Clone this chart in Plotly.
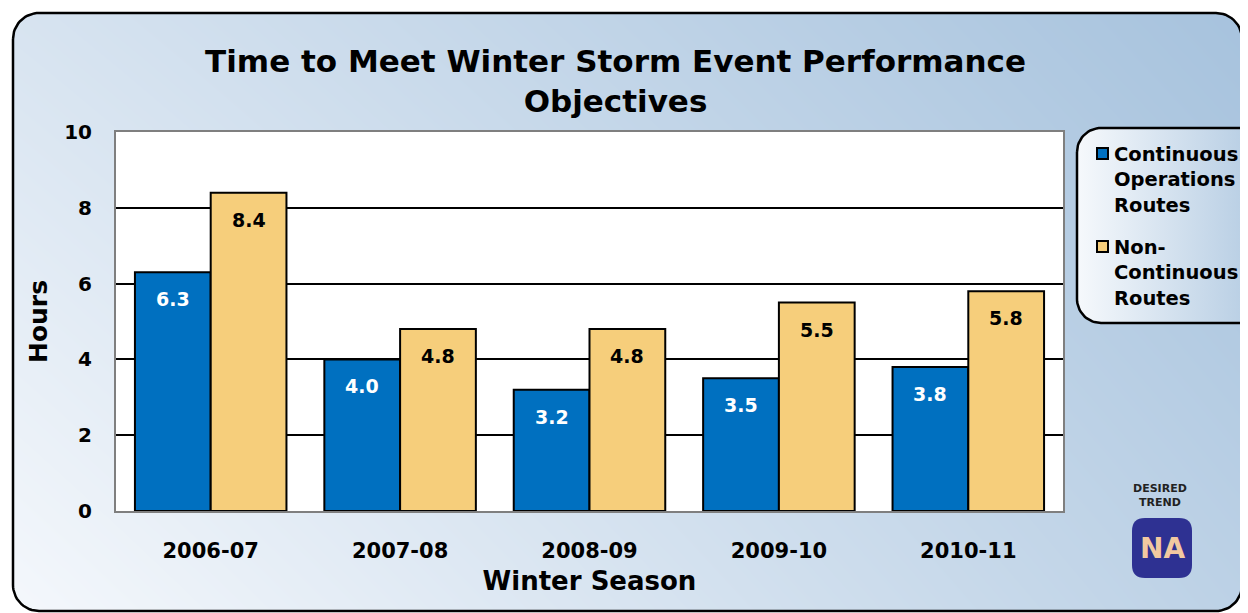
import numpy as np
import plotly.graph_objects as go

# ---------------- data ----------------
seasons = ["2006-07", "2007-08", "2008-09", "2009-10", "2010-11"]
continuous_routes = [6.3, 4.0, 3.2, 3.5, 3.8]
non_continuous_routes = [8.4, 4.8, 4.8, 5.5, 5.8]
series_names = ["Continuous<br>Operations<br>Routes", "Non-<br>Continuous<br>Routes"]
y_ticks = [0, 2, 4, 6, 8, 10]
title_text = "Time to Meet Winter Storm Event Performance<br>Objectives"
x_title = "Winter Season"
y_title = "Hours"

# ---------------- layout constants ----------------
W, H = 1248, 613
OFF = 8                      # page body margin offset
BLUE = "#0070C0"
TAN = "#F6CE7B"
FONT = "DejaVu Sans"


def fx(x):
    return x - OFF


def fy(y):
    return y - OFF


PX0, PX1, PY0, PY1 = fx(116), fx(1063), fy(132), fy(511)   # plot area in figure px


def rrect(x0, y0, x1, y1, r, n=18):
    xs, ys = [], []
    for cx, cy, a0 in [(x0 + r, y0 + r, 180), (x1 - r, y0 + r, 270),
                       (x1 - r, y1 - r, 0), (x0 + r, y1 - r, 90)]:
        for t in np.linspace(a0, a0 + 90, n):
            xs.append(cx + r * np.cos(np.radians(t)))
            ys.append(cy + r * np.sin(np.radians(t)))
    xs.append(xs[0])
    ys.append(ys[0])
    return xs, ys


def rpath(x0, y0, x1, y1, r):
    return (f"M{x0 + r},{y0} L{x1 - r},{y0} Q{x1},{y0} {x1},{y0 + r} "
            f"L{x1},{y1 - r} Q{x1},{y1} {x1 - r},{y1} L{x0 + r},{y1} "
            f"Q{x0},{y1} {x0},{y1 - r} L{x0},{y0 + r} Q{x0},{y0} {x0 + r},{y0} Z")


fig = go.Figure()

# ---- background panel (pixel-coordinate subplot x/y) ----
fig.add_trace(go.Heatmap(
    x=[0, W], y=[0, H], z=[[0.38, 1.0], [0.0, 0.72]],
    colorscale=[[0, "#F5F8FC"], [1, "#A6C2DD"]], zmin=0, zmax=1,
    zsmooth="best", showscale=False, hoverinfo="skip", xaxis="x", yaxis="y"))

# white mask outside the rounded panel
ix, iy = rrect(fx(13), fy(13), fx(1242), fy(611), 26)
ox = [-5, W + 5, W + 5, -5, -5]
oy = [-5, -5, H + 5, H + 5, -5]
mx = ox + ix[::-1] + [-5]
my = oy + iy[::-1] + [-5]
fig.add_trace(go.Scatter(x=mx, y=my, fill="toself", fillcolor="white",
                         mode="none", hoverinfo="skip", showlegend=False,
                         xaxis="x", yaxis="y"))
# panel border
fig.add_trace(go.Scatter(x=ix, y=iy, mode="lines", line=dict(color="black", width=2.5),
                         hoverinfo="skip", showlegend=False, xaxis="x", yaxis="y"))
# white plot area
fig.add_trace(go.Scatter(x=[PX0, PX1, PX1, PX0, PX0], y=[PY0, PY0, PY1, PY1, PY0],
                         fill="toself", fillcolor="white", mode="none",
                         hoverinfo="skip", showlegend=False, xaxis="x", yaxis="y"))
# legend box
lx, ly = rrect(fx(1077), fy(128), fx(1290), fy(323), 24)
fig.add_trace(go.Scatter(x=lx, y=ly, fill="toself", mode="lines",
                         line=dict(color="black", width=2.5),
                         fillgradient=dict(type="horizontal",
                                           colorscale=[[0, "#F6F9FC"], [1, "#A9C4DE"]]),
                         hoverinfo="skip", showlegend=False, xaxis="x", yaxis="y"))

# ---- bars ----
fig.add_trace(go.Bar(x=seasons, y=continuous_routes, name=series_names[0],
                     marker=dict(color=BLUE, line=dict(color="black", width=2)),
                     showlegend=False, xaxis="x2", yaxis="y2"))
fig.add_trace(go.Bar(x=seasons, y=non_continuous_routes, name=series_names[1],
                     marker=dict(color=TAN, line=dict(color="black", width=2)),
                     showlegend=False, xaxis="x2", yaxis="y2"))

annotations = []
half = (PX1 - PX0) / len(seasons) * 0.8 / 4
for s, v in zip(seasons, continuous_routes):
    annotations.append(dict(x=s, y=v, xref="x2", yref="y2", text=f"{v:.1f}",
                            showarrow=False, xshift=-half, yshift=-27,
                            font=dict(family=FONT, size=19, color="white", weight="bold")))
for s, v in zip(seasons, non_continuous_routes):
    annotations.append(dict(x=s, y=v, xref="x2", yref="y2", text=f"{v:.1f}",
                            showarrow=False, xshift=half, yshift=-27,
                            font=dict(family=FONT, size=19, color="black", weight="bold")))

# legend (custom, inside rounded box)
legend_colors = [BLUE, TAN]
legend_sq_y = [fy(148), fy(241)]
legend_text_y = [fy(180), fy(273)]
shapes = []
for name, col, sy, ty in zip(series_names, legend_colors, legend_sq_y, legend_text_y):
    shapes.append(dict(type="rect", x0=fx(1097), x1=fx(1108), y0=sy, y1=sy + 11,
                       xref="x", yref="y", fillcolor=col,
                       line=dict(color="black", width=2), layer="above"))
    annotations.append(dict(x=fx(1112), y=ty, xref="x", yref="y", text=name,
                            xanchor="left", yanchor="middle", align="left",
                            showarrow=False,
                            font=dict(family=FONT, size=19.5, color="black", weight="bold")))

# desired trend badge
annotations.append(dict(x=fx(1160), y=fy(495), xref="x", yref="y", text="DESIRED<br>TREND",
                        showarrow=False,
                        font=dict(family=FONT, size=11, color="#222222", weight="bold")))
annotations.append(dict(x=fx(1162), y=fy(548), xref="x", yref="y", text="NA", showarrow=False,
                        font=dict(family=FONT, size=28, color="#F2C9A0", weight="bold")))
shapes.append(dict(type="path", path=rpath(fx(1132), fy(518), fx(1192), fy(578), 13),
                   xref="x", yref="y", fillcolor="#2E3192", line=dict(width=0),
                   layer="above"))

fig.update_layout(
    template="none",
    width=W, height=H, autosize=False,
    margin=dict(l=0, r=0, t=0, b=0, pad=0, autoexpand=False),
    paper_bgcolor="white", plot_bgcolor="rgba(0,0,0,0)",
    barmode="group", bargap=0.2, bargroupgap=0,
    font=dict(family=FONT, color="black"),
    title=dict(text=title_text, x=607.5 / W, xanchor="center", xref="container",
               y=1 - 64 / H, yanchor="top", yref="container", automargin=False,
               font=dict(family=FONT, size=31, color="black", weight="bold")),
    xaxis=dict(domain=[0, 1], range=[0, W], visible=False, fixedrange=True,
               anchor="y", automargin=False),
    yaxis=dict(domain=[0, 1], range=[H, 0], visible=False, fixedrange=True,
               anchor="x", automargin=False),
    xaxis2=dict(domain=[PX0 / W, PX1 / W], anchor="y2", type="category",
                showline=True, mirror=True, linecolor="#7F7F7F", linewidth=2,
                ticks="", showgrid=False, ticklabelstandoff=20, automargin=False,
                tickfont=dict(family=FONT, size=21, color="black", weight="bold"),
                title=dict(text=x_title, standoff=10,
                           font=dict(family=FONT, size=26, color="black", weight="bold")),
                fixedrange=True),
    yaxis2=dict(domain=[(H - PY1) / H, (H - PY0) / H], anchor="x2", range=[0, 10],
                tickvals=y_ticks, showgrid=True, gridcolor="black", gridwidth=2,
                zeroline=False, showline=True, mirror=True, linecolor="#7F7F7F",
                linewidth=2, ticks="", ticklabelstandoff=18, automargin=False,
                tickfont=dict(family=FONT, size=20, color="black", weight="bold"),
                title=dict(text=y_title, standoff=9,
                           font=dict(family=FONT, size=25, color="black", weight="bold")),
                fixedrange=True),
    showlegend=False,
    annotations=annotations,
    shapes=shapes,
)

fig.write_html("out.html")
